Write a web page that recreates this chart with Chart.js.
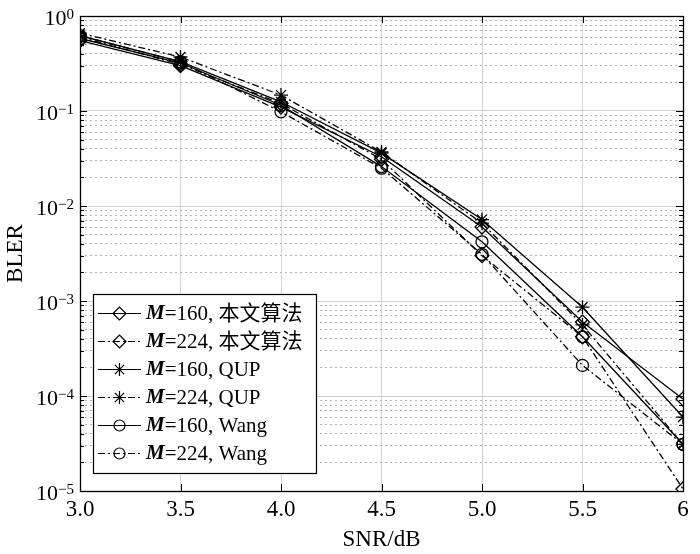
<!DOCTYPE html>
<html>
<head>
<meta charset="utf-8">
<script src="https://cdn.jsdelivr.net/npm/chart.js@4/dist/chart.umd.min.js"></script>
<style>
  html, body { margin: 0; padding: 0; background: #fff; }
  #wrap { width: 700px; height: 554px; position: relative; }
</style>
</head>
<body>
<div id="wrap"><canvas id="c" width="700" height="554"></canvas></div>
<script>
// ---- data ----
const snrValues = [3.0, 3.5, 4.0, 4.5, 5.0, 5.5, 6];
const xTickLabels = ['3.0', '3.5', '4.0', '4.5', '5.0', '5.5', '6'];
const yDecades = [0, -1, -2, -3, -4, -5];
const seriesNames = ['M=160, 本文算法', 'M=224, 本文算法', 'M=160, QUP', 'M=224, QUP', 'M=160, Wang', 'M=224, Wang'];
const prop160 = [0.55, 0.30, 0.110, 0.033, 0.0060, 0.00060, 9.3e-5];
const prop224 = [0.60, 0.31, 0.120, 0.031, 0.0030, 0.00042, 1.05e-5];
const qup160  = [0.62, 0.33, 0.125, 0.036, 0.0072, 0.00086, 6.0e-5];
const qup224  = [0.66, 0.37, 0.147, 0.037, 0.0066, 0.00056, 3.1e-5];
const wang160 = [0.58, 0.32, 0.115, 0.026, 0.0042, 0.00042, 3.1e-5];
const wang224 = [0.62, 0.33, 0.098, 0.025, 0.0031, 0.00021, 3.1e-5];

const SERIF = '"Liberation Serif", "Times New Roman", "Noto Sans CJK SC", serif';
const DASHDOT = [7, 3, 2, 3];

function mk(name, arr, style, dashed, radius) {
  return {
    label: name,
    data: snrValues.map((x, i) => ({ x: x, y: arr[i] })),
    borderColor: '#000',
    borderWidth: 1.3,
    borderDash: dashed ? DASHDOT : [],
    pointStyle: style,
    pointRadius: radius,
    pointBorderColor: '#000',
    pointBorderWidth: 1.3,
    pointBackgroundColor: 'rgba(0,0,0,0)',
    fill: false,
    tension: 0
  };
}

const datasets = [
  mk(seriesNames[0], prop160, 'rectRot', false, 7),
  mk(seriesNames[1], prop224, 'rectRot', true, 7),
  mk(seriesNames[2], qup160, 'star', false, 7),
  mk(seriesNames[3], qup224, 'star', true, 7),
  mk(seriesNames[4], wang160, 'circle', false, 6),
  mk(seriesNames[5], wang224, 'circle', true, 6)
];

function yTickValues() {
  const v = [];
  for (let e = -5; e <= 0; e++) {
    for (let m = 1; m <= 9; m++) {
      const val = m * Math.pow(10, e);
      if (val <= 1.0000001) v.push(val);
    }
  }
  return v;
}
function isMajor(v) {
  const l = Math.log10(v);
  return Math.abs(l - Math.round(l)) < 1e-9;
}

const frame = {
  id: 'frame',
  afterDatasetsDraw(chart) {
    const ctx = chart.ctx, a = chart.chartArea;
    const xs = chart.scales.x, ys = chart.scales.y;
    ctx.save();
    ctx.strokeStyle = '#000';
    ctx.lineWidth = 1;
    ctx.setLineDash([]);
    ctx.beginPath();
    yTickValues().forEach(v => {
      const y = Math.round(ys.getPixelForValue(v)) + 0.5;
      const len = isMajor(v) ? 7 : 4;
      ctx.moveTo(a.left, y); ctx.lineTo(a.left + len, y);
      ctx.moveTo(a.right, y); ctx.lineTo(a.right - len, y);
    });
    snrValues.forEach(v => {
      const x = Math.round(xs.getPixelForValue(v)) + 0.5;
      ctx.moveTo(x, a.bottom); ctx.lineTo(x, a.bottom - 7);
      ctx.moveTo(x, a.top); ctx.lineTo(x, a.top + 7);
    });
    ctx.stroke();
    ctx.lineWidth = 1.3;
    ctx.strokeRect(Math.round(a.left) + 0.5, Math.round(a.top) + 0.5,
                   Math.round(a.right - a.left), Math.round(a.bottom - a.top));
    ctx.restore();
  },
  afterDraw(chart) {
    const ctx = chart.ctx, ys = chart.scales.y;
    ctx.save();
    ctx.fillStyle = '#000';
    const xr = 74;
    yDecades.forEach(n => {
      const y = ys.getPixelForValue(Math.pow(10, n));
      const e = n === 0 ? '0' : '\u2212' + (-n);
      ctx.font = '15px ' + SERIF;
      const w = ctx.measureText(e).width;
      ctx.textAlign = 'left';
      ctx.textBaseline = 'alphabetic';
      ctx.fillText(e, xr - w, y + 3);
      ctx.font = '22px ' + SERIF;
      ctx.textAlign = 'right';
      ctx.fillText('10', xr - w, y + 9);
    });
    // legend
    const bx = 93, by = 294, bw = 223, bh = 179;
    ctx.fillStyle = '#fff';
    ctx.fillRect(bx, by, bw, bh);
    ctx.strokeStyle = '#000';
    ctx.lineWidth = 1.2;
    ctx.setLineDash([]);
    ctx.strokeRect(bx + 0.5, by + 0.5, bw, bh);
    chart.data.datasets.forEach((ds, i) => {
      const cy = 313 + i * 28;
      ctx.save();
      ctx.strokeStyle = '#000';
      ctx.lineWidth = 1.2;
      ctx.setLineDash(ds.borderDash);
      ctx.beginPath();
      ctx.moveTo(98, cy + 0.5); ctx.lineTo(141, cy + 0.5);
      ctx.stroke();
      ctx.setLineDash([]);
      const r = ds.pointStyle === 'circle' ? 5.5 : 6.5;
      if (Chart.helpers && Chart.helpers.drawPoint) {
        ctx.fillStyle = 'rgba(0,0,0,0)';
        Chart.helpers.drawPoint(ctx, { pointStyle: ds.pointStyle, rotation: 0, radius: r, borderWidth: 1.2 }, 119.5, cy + 0.5);
      }
      ctx.restore();
      ctx.fillStyle = '#000';
      ctx.textAlign = 'left';
      ctx.textBaseline = 'middle';
      ctx.font = 'italic bold 21px ' + SERIF;
      ctx.fillText('M', 146, cy + 1);
      const mw = ctx.measureText('M').width;
      ctx.font = '21px ' + SERIF;
      ctx.fillText(ds.label.slice(1), 146 + mw, cy + 1);
    });
    ctx.restore();
  }
};

new Chart(document.getElementById('c'), {
  type: 'line',
  data: { datasets: datasets },
  options: {
    responsive: false,
    animation: false,
    events: [],
    layout: { padding: { left: 0, right: 17, top: 16, bottom: 0 } },
    plugins: { legend: { display: false }, tooltip: { enabled: false } },
    scales: {
      x: {
        type: 'linear',
        min: 3, max: 6,
        afterBuildTicks: s => { s.ticks = snrValues.map(v => ({ value: v })); },
        afterFit: s => { s.height = 63; },
        ticks: {
          color: '#000',
          font: { family: SERIF, size: 23 },
          padding: 5,
          maxRotation: 0,
          autoSkip: false,
          callback: (v, i) => xTickLabels[i]
        },
        grid: { color: '#d4d4d4', lineWidth: 1, drawTicks: false },
        border: { display: false },
        title: {
          display: true, text: 'SNR/dB', color: '#000',
          font: { family: SERIF, size: 23 },
          padding: { top: 0, bottom: 0 }
        }
      },
      y: {
        type: 'logarithmic',
        min: 1e-5, max: 1,
        afterBuildTicks: s => { s.ticks = yTickValues().map(v => ({ value: v })); },
        afterFit: s => { s.width = 80; },
        ticks: { display: false },
        grid: {
          drawTicks: false,
          lineWidth: 1,
          color: c => (c.tick && isMajor(c.tick.value)) ? '#d0d0d0' : '#b4b4b4'
        },
        border: {
          display: false,
          dash: c => (c.tick && isMajor(c.tick.value)) ? [] : [2, 3]
        },
        title: {
          display: true, text: 'BLER', color: '#000',
          font: { family: SERIF, size: 23 },
          padding: { top: 2, bottom: 0 }
        }
      }
    }
  },
  plugins: [frame]
});
</script>
</body>
</html>
